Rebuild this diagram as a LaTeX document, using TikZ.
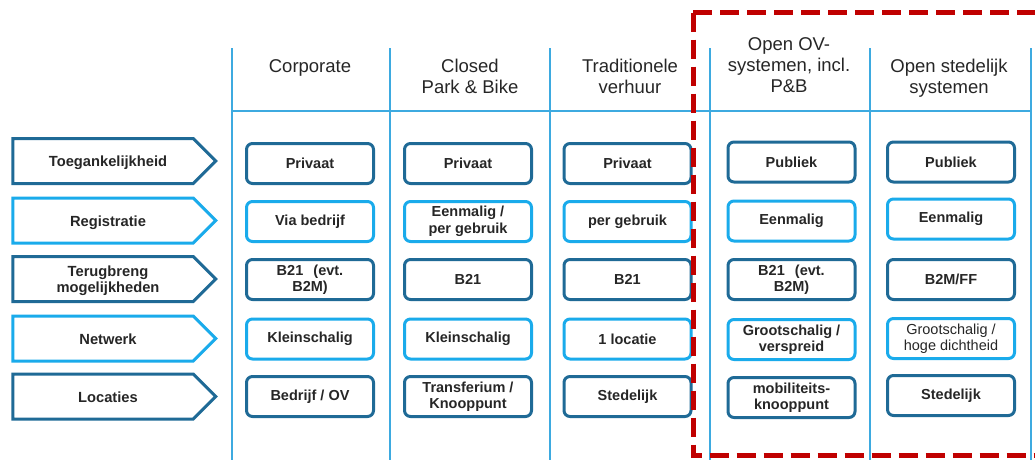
\documentclass[tikz,border=0pt]{standalone}
\usepackage{fontspec}
\setmainfont{Liberation Sans}
\usetikzlibrary{shapes.symbols}

\definecolor{navy}{HTML}{1F6A96}
\definecolor{sky}{HTML}{1AABEB}
\definecolor{gridblue}{HTML}{3DAAE0}
\definecolor{framered}{HTML}{C00000}
\definecolor{ink}{HTML}{262626}

% column heading: stacked lines, baseline at the first line
\newcommand\hdrtext[1]{\begin{tabular}[t]{@{}c@{}}#1\end{tabular}}

\begin{document}
\begin{tikzpicture}[x=1pt,y=-1pt,
  cell/.style={draw, rounded corners=6pt, line width=3pt,
    minimum width=127pt, minimum height=40pt, inner sep=1pt,
    align=center, text=ink,
    font=\fontsize{14.5}{16.5}\selectfont\bfseries},
  darkcell/.style={cell, draw=navy},
  lightcell/.style={cell, draw=sky},
  rowtag/.style={shape=signal, signal to=east, signal pointer angle=90,
    draw, line width=3pt, minimum width=203pt, minimum height=45pt,
    inner sep=0pt},
  darktag/.style={rowtag, draw=navy},
  lighttag/.style={rowtag, draw=sky},
  tagtext/.style={inner sep=0pt, align=center, text=ink,
    font=\fontsize{14.7}{16.5}\selectfont\bfseries},
  header/.style={anchor=base, inner sep=0pt, text=ink,
    font=\fontsize{18.5}{21}\selectfont},
  gridline/.style={draw=gridblue, line width=1.5pt},
  focusframe/.style={draw=framered, line width=5pt,
    dash pattern=on 19pt off 8pt}
]
\useasboundingbox (0,0) rectangle (1035,459);
\clip (0,0) rectangle (1035,459);

% table grid
\foreach \gx in {232,390,550,710,870,1031}
  \draw[gridline] (\gx,48) -- (\gx,462);
\draw[gridline] (232,111) -- (1031,111);

% column headings
\node[header] (hcorp)  at (310,72) {\hdrtext{Corporate}};
\node[header] (hpark)  at (470,72) {\hdrtext{Closed\\Park \& Bike}};
\node[header] (hrent)  at (630,72) {\hdrtext{Traditionele\\verhuur}};
\node[header] (hov)    at (789,50) {\hdrtext{Open OV-\\systemen, incl.\\P\&B}};
\node[header] (hcity)  at (949,72) {\hdrtext{Open stedelijk\\systemen}};

% row tags
\node[darktag]  (t1) at (103,161)   {};
\node[lighttag] (t2) at (103,220.5) {};
\node[darktag]  (t3) at (103,279)   {};
\node[lighttag] (t4) at (103,338.5) {};
\node[darktag]  (t5) at (103,396.5) {};
\node[tagtext] (t1txt) at (108,163)   {Toegankelijkheid};
\node[tagtext] (t2txt) at (108,222.5) {Registratie};
\node[tagtext] (t3txt) at (108,280.5) {Terugbreng\\mogelijkheden};
\node[tagtext] (t4txt) at (108,339)   {Netwerk};
\node[tagtext] (t5txt) at (108,397)   {Locaties};

% Corporate
\node[darkcell]  (c11) at (310,163.5) {Privaat};
\node[lightcell] (c12) at (310,221.5) {Via bedrijf};
\node[darkcell]  (c13) at (310,279.5) {B21\hspace{0.7em}(evt.\\B2M)};
\node[lightcell] (c14) at (310,339)   {Kleinschalig};
\node[darkcell]  (c15) at (310,396.5) {Bedrijf / OV};

% Closed Park & Bike
\node[darkcell]  (c21) at (468,163.5) {Privaat};
\node[lightcell] (c22) at (468,221.5) {Eenmalig /\\per gebruik};
\node[darkcell]  (c23) at (468,279.5) {B21};
\node[lightcell] (c24) at (468,339)   {Kleinschalig};
\node[darkcell]  (c25) at (468,396.5) {Transferium /\\Knooppunt};

% Traditionele verhuur
\node[darkcell]  (c31) at (627.5,163.5) {Privaat};
\node[lightcell] (c32) at (627.5,221.5) {per gebruik};
\node[darkcell]  (c33) at (627.5,279.5) {B21};
\node[lightcell] (c34) at (627.5,339)   {1 locatie};
\node[darkcell]  (c35) at (627.5,396.5) {Stedelijk};

% Open OV-systemen
\node[darkcell]  (c41) at (791.5,162) {Publiek};
\node[lightcell] (c42) at (791.5,221) {Eenmalig};
\node[darkcell]  (c43) at (791.5,279.5) {B21\hspace{0.7em}(evt.\\B2M)};
\node[lightcell] (c44) at (791.5,339.5) {Grootschalig /\\verspreid};
\node[darkcell]  (c45) at (791.5,397.5) {mobiliteits-\\knooppunt};

% Open stedelijk systemen
\node[darkcell]  (c51) at (951,162) {Publiek};
\node[lightcell] (c52) at (951,219) {Eenmalig};
\node[darkcell]  (c53) at (951,279.5) {B2M/FF};
\node[lightcell, font=\fontsize{14.5}{16.5}\selectfont] (c54) at (951,338.5)
  {Grootschalig /\\hoge dichtheid};
\node[darkcell]  (c55) at (951,395.5) {Stedelijk};

% highlighted open systems
\draw[focusframe] (693,12.5) -- (1045,12.5)
  (693,12.5) -- (693,455) -- (1045,455);
\end{tikzpicture}
\end{document}
